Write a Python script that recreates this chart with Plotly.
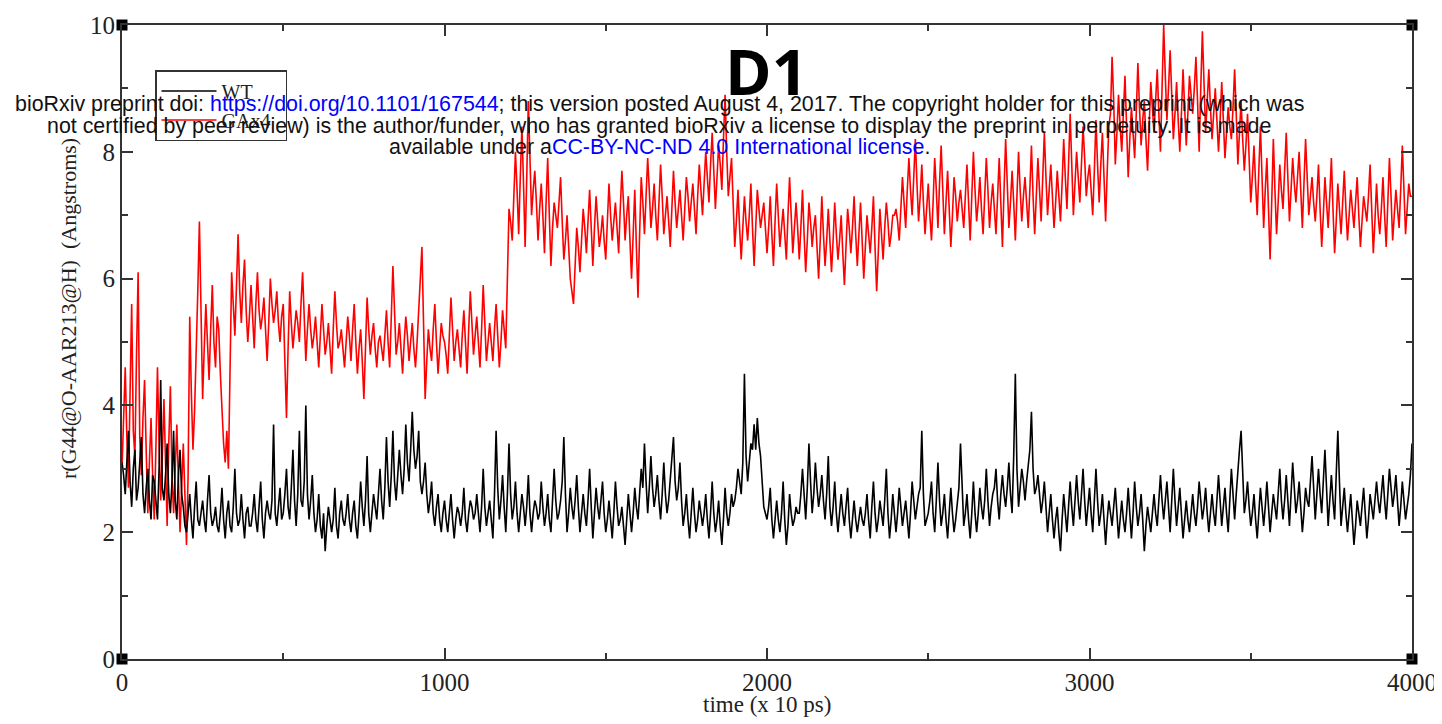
import plotly.graph_objects as go

# ---------------- data ----------------
# samples at t = 0, 10, 20, ... 4000 (x 10 ps)
wt_even = [
    3.1, 2.6, 3.6, 2.4, 3.3, 2.7, 3.5, 2.3, 3.0, 2.2,
    2.8, 2.2, 4.4, 2.5, 3.4, 2.3, 3.6, 2.2, 3.3, 2.4,
    2.0, 2.6, 1.9, 2.8, 2.1, 2.5, 2.0, 2.9, 2.1, 2.4,
    2.0, 2.7, 1.9, 2.5, 2.0, 3.0, 2.1, 2.6, 1.9, 2.4,
    2.1, 2.6, 2.0, 2.8, 1.9, 2.5, 2.2, 3.7, 2.1, 2.7,
    2.3, 3.0, 2.2, 3.3, 2.1, 3.6, 2.4, 4.0, 2.2, 2.9,
    2.0, 2.6, 1.9, 1.7, 2.4, 2.0, 2.7, 1.9, 2.5, 2.1,
    2.6, 2.0, 2.5, 1.9, 2.8, 2.1, 3.2, 2.0, 2.6, 2.2,
    3.0, 2.2, 3.5, 2.4, 3.6, 2.5, 3.3, 2.6, 3.7, 2.8,
    3.9, 3.0, 3.6, 2.6, 3.1, 2.3, 2.8, 2.1, 2.6, 2.0,
    2.5, 2.0, 2.6, 1.9, 2.4, 2.1, 2.7, 2.0, 2.5, 2.2,
    2.6, 2.0, 3.0, 2.1, 2.5, 1.9, 3.6, 2.2, 2.9, 2.0,
    3.4, 2.2, 2.8, 2.0, 2.6, 2.1, 2.9, 2.0, 2.5, 2.2,
    2.8, 2.1, 2.6, 2.0, 3.0, 2.2, 2.5, 3.5, 2.0, 2.7,
    2.2, 2.9, 2.0, 2.6, 2.1, 3.0, 1.9, 2.7, 2.2, 2.8,
    2.0, 2.5, 1.9, 2.8, 2.1, 2.4, 1.8, 2.6, 2.0, 2.7,
    2.2, 3.0, 3.4, 2.3, 3.2, 2.4, 2.9, 2.2, 3.1, 2.3,
    2.8, 3.5, 2.5, 3.1, 2.1, 2.6, 1.9, 2.7, 2.0, 2.5,
    2.1, 2.6, 1.9, 2.8, 2.0, 2.5, 1.8, 2.7, 2.1, 2.6,
    2.5, 3.0, 2.6, 4.5, 2.8, 3.4, 3.7, 3.8, 3.2, 2.4,
    2.2, 2.7, 1.9, 2.5, 2.0, 2.8, 1.8, 2.6, 2.1, 2.4,
    2.3, 3.0, 2.2, 3.4, 2.3, 3.1, 2.4, 2.9, 2.2, 3.2,
    2.1, 2.8, 2.0, 2.6, 2.1, 2.7, 1.9, 2.5, 2.0, 2.4,
    2.1, 2.6, 1.9, 2.8, 2.0, 2.5, 2.1, 3.0, 1.9, 2.6,
    2.0, 2.7, 2.1, 2.5, 1.9, 2.8, 2.2, 2.6, 3.6, 2.1,
    2.3, 2.8, 2.0, 3.1, 2.1, 2.6, 1.9, 2.7, 2.0, 2.5,
    3.4, 2.1, 2.6, 1.9, 2.8, 2.0, 2.7, 2.2, 3.0, 2.1,
    2.6, 3.0, 2.2, 2.9, 2.4, 3.1, 2.3, 4.5, 2.4, 3.0,
    2.5, 3.1, 3.9, 2.6, 2.9, 2.3, 2.8, 2.0, 2.6, 1.9,
    2.4, 1.7, 2.6, 2.0, 2.8, 2.1, 2.9, 2.2, 3.0, 2.1,
    2.7, 2.0, 3.0, 2.1, 2.6, 1.8, 2.5, 2.1, 2.7, 1.9,
    2.5, 2.0, 2.7, 1.9, 2.8, 2.1, 2.6, 1.7, 2.4, 2.0,
    2.6, 2.1, 2.9, 2.2, 2.8, 2.0, 3.0, 2.1, 2.7, 1.9,
    2.5, 2.0, 2.6, 2.1, 2.8, 2.2, 2.7, 2.0, 2.6, 2.1,
    2.9, 2.1, 2.7, 2.0, 3.0, 2.2, 3.0, 3.6, 2.3, 2.8,
    2.1, 2.6, 1.9, 2.7, 2.1, 2.8, 2.0, 2.6, 2.2, 3.0,
    2.2, 2.9, 2.1, 3.1, 2.3, 2.8, 2.0, 2.7, 2.4, 3.2,
    2.2, 3.0, 2.3, 3.3, 2.1, 2.9, 2.2, 3.6, 2.1, 2.7,
    2.0, 2.6, 1.8, 2.5, 2.1, 2.7, 1.9, 2.6, 2.2, 2.8,
    2.3, 2.9, 2.2, 3.0, 2.4, 2.9, 2.1, 2.8, 2.2, 2.6,
    3.4,
]
# samples at t = 5, 15, 25, ... 3995
wt_odd = [
    2.9, 3.2, 2.8, 3.0, 2.5, 3.1, 2.6, 2.7, 2.5, 2.9,
    2.5, 3.0, 2.7, 2.9, 2.6, 2.8, 2.5, 2.9, 2.6, 2.1,
    2.3, 2.2, 2.4, 2.2, 2.3, 2.2, 2.5, 2.3, 2.2, 2.1,
    2.3, 2.2, 2.3, 2.1, 2.4, 2.3, 2.2, 2.2, 2.3, 2.1,
    2.3, 2.2, 2.4, 2.2, 2.3, 2.3, 2.5, 2.3, 2.4, 2.2,
    2.6, 2.4, 2.7, 2.5, 2.6, 2.5, 2.8, 2.6, 2.5, 2.3,
    2.2, 2.1, 2.3, 2.1, 2.2, 2.2, 2.1, 2.3, 2.2, 2.3,
    2.2, 2.3, 2.1, 2.3, 2.4, 2.5, 2.3, 2.3, 2.4, 2.6,
    2.5, 2.7, 2.8, 2.9, 2.8, 2.9, 2.9, 3.0, 3.1, 3.3,
    3.3, 3.2, 2.8, 2.8, 2.6, 2.5, 2.3, 2.4, 2.2, 2.3,
    2.2, 2.3, 2.2, 2.2, 2.3, 2.3, 2.2, 2.3, 2.4, 2.3,
    2.3, 2.4, 2.4, 2.3, 2.2, 2.6, 2.7, 2.5, 2.4, 2.6,
    2.6, 2.4, 2.3, 2.3, 2.4, 2.4, 2.3, 2.3, 2.4, 2.3,
    2.4, 2.3, 2.2, 2.5, 2.5, 2.3, 2.8, 2.6, 2.3, 2.4,
    2.5, 2.4, 2.3, 2.3, 2.5, 2.4, 2.3, 2.4, 2.5, 2.3,
    2.2, 2.2, 2.3, 2.4, 2.2, 2.1, 2.2, 2.3, 2.3, 2.4,
    2.6, 2.7, 2.8, 2.7, 2.7, 2.6, 2.5, 2.6, 2.6, 2.5,
    3.1, 2.8, 2.7, 2.5, 2.3, 2.2, 2.3, 2.3, 2.2, 2.3,
    2.3, 2.2, 2.3, 2.3, 2.2, 2.1, 2.2, 2.3, 2.3, 2.4,
    2.7, 2.8, 3.1, 3.2, 3.1, 3.3, 3.3, 3.4, 2.8, 2.3,
    2.4, 2.2, 2.2, 2.2, 2.3, 2.2, 2.1, 2.3, 2.2, 2.3,
    2.6, 2.6, 2.7, 2.8, 2.6, 2.7, 2.6, 2.5, 2.6, 2.4,
    2.4, 2.3, 2.3, 2.3, 2.4, 2.2, 2.2, 2.2, 2.2, 2.2,
    2.3, 2.2, 2.4, 2.3, 2.2, 2.3, 2.5, 2.3, 2.2, 2.3,
    2.3, 2.4, 2.3, 2.2, 2.3, 2.5, 2.4, 2.7, 2.6, 2.2,
    2.5, 2.3, 2.5, 2.5, 2.3, 2.2, 2.3, 2.3, 2.2, 2.7,
    2.6, 2.3, 2.2, 2.3, 2.3, 2.3, 2.4, 2.5, 2.5, 2.4,
    2.7, 2.5, 2.6, 2.6, 2.7, 2.6, 3.2, 3.0, 2.7, 2.8,
    2.8, 3.3, 3.0, 2.7, 2.6, 2.5, 2.4, 2.3, 2.2, 2.2,
    2.0, 2.2, 2.3, 2.4, 2.4, 2.5, 2.5, 2.6, 2.5, 2.4,
    2.3, 2.5, 2.5, 2.3, 2.2, 2.2, 2.3, 2.4, 2.3, 2.2,
    2.2, 2.3, 2.3, 2.3, 2.4, 2.3, 2.2, 2.1, 2.2, 2.3,
    2.3, 2.5, 2.5, 2.5, 2.4, 2.5, 2.5, 2.4, 2.3, 2.2,
    2.2, 2.3, 2.3, 2.4, 2.5, 2.4, 2.3, 2.3, 2.3, 2.5,
    2.5, 2.4, 2.3, 2.5, 2.6, 2.6, 3.3, 2.9, 2.5, 2.4,
    2.3, 2.2, 2.3, 2.4, 2.4, 2.4, 2.3, 2.4, 2.6, 2.5,
    2.5, 2.5, 2.6, 2.7, 2.5, 2.4, 2.3, 2.5, 2.8, 2.7,
    2.6, 2.6, 2.8, 2.7, 2.5, 2.5, 2.9, 2.8, 2.4, 2.3,
    2.3, 2.2, 2.1, 2.3, 2.4, 2.3, 2.2, 2.4, 2.5, 2.5,
    2.6, 2.5, 2.6, 2.7, 2.6, 2.5, 2.4, 2.5, 2.4, 2.9,
]
gax4_even = [
    3.0, 4.6, 2.7, 5.6, 3.2, 6.1, 2.9, 4.4, 2.3, 3.8,
    2.2, 4.6, 2.5, 4.1, 2.1, 4.3, 2.3, 3.7, 2.0, 3.4,
    1.8, 5.4, 3.3, 4.7, 6.9, 4.1, 5.6, 4.4, 5.9, 4.6,
    5.2, 3.9, 3.1, 3.0, 6.1, 5.1, 6.7, 5.3, 6.3, 5.0,
    5.9, 4.9, 6.1, 5.2, 5.7, 4.7, 6.0, 5.3, 5.8, 5.0,
    5.6, 3.8, 5.8, 4.9, 5.5, 5.0, 6.1, 4.7, 5.6, 4.9,
    5.4, 4.6, 5.6, 4.8, 5.3, 4.5, 5.8, 4.9, 5.2, 4.6,
    5.4, 4.7, 5.6, 4.5, 5.2, 4.1, 5.7, 4.8, 5.3, 4.6,
    5.1, 4.7, 5.5, 4.6, 6.2, 4.8, 5.3, 4.5, 5.4, 4.7,
    5.3, 4.6, 5.5, 6.5, 4.1, 5.2, 4.7, 5.6, 4.5, 5.3,
    5.0, 4.5, 5.7, 4.7, 5.2, 4.6, 5.5, 4.5, 5.8, 4.8,
    5.4, 4.6, 5.9, 4.7, 5.3, 4.7, 5.6, 4.6, 5.5, 4.9,
    7.1, 6.6, 8.0, 6.7, 8.4, 6.5, 8.8, 7.0, 7.7, 6.6,
    7.5, 6.4, 7.9, 6.2, 7.2, 6.8, 7.6, 6.3, 7.0, 6.0,
    5.6, 6.8, 6.1, 7.1, 6.4, 7.4, 6.2, 7.3, 6.5, 7.0,
    6.3, 7.5, 6.6, 7.2, 6.4, 7.7, 6.6, 7.3, 6.0, 7.4,
    5.7, 7.6, 6.7, 7.9, 6.8, 7.5, 6.6, 7.8, 6.7, 7.3,
    6.5, 7.7, 6.8, 7.4, 6.6, 7.6, 6.9, 7.5, 6.7, 7.8,
    7.0, 8.0, 7.2, 8.3, 7.1, 8.1, 7.4, 8.9, 7.3, 7.9,
    6.5, 7.4, 6.3, 7.3, 6.6, 7.5, 6.2, 7.4, 6.8, 7.2,
    6.4, 7.3, 6.2, 7.5, 6.5, 7.1, 6.3, 7.6, 6.4, 7.2,
    6.3, 7.4, 6.1, 7.2, 6.5, 7.0, 6.0, 7.3, 6.2, 7.1,
    6.1, 7.2, 6.3, 7.0, 5.9, 7.1, 6.4, 7.3, 6.2, 7.2,
    6.0, 7.0, 6.4, 7.3, 5.8, 7.1, 6.3, 7.2, 6.5, 7.0,
    7.1, 6.6, 7.6, 6.8, 7.9, 7.0, 8.2, 6.9, 7.8, 6.7,
    7.5, 6.6, 7.9, 6.8, 8.1, 6.7, 7.7, 6.5, 7.6, 6.9,
    7.4, 6.8, 7.8, 6.6, 8.0, 6.9, 7.6, 6.7, 7.9, 6.8,
    7.5, 6.7, 7.9, 6.5, 8.2, 6.8, 7.7, 6.6, 8.0, 6.9,
    7.6, 6.8, 8.1, 6.7, 7.9, 6.9, 8.3, 7.0, 7.8, 6.8,
    7.7, 6.9, 8.2, 7.1, 8.6, 7.0, 8.0, 7.2, 8.4, 7.3,
    7.8, 7.0, 8.5, 7.2, 8.3, 6.9, 8.4, 9.5, 7.8, 8.9,
    8.0, 9.2, 7.6, 8.7, 7.9, 9.4, 8.1, 8.8, 7.7, 9.1,
    8.3, 9.3, 8.0, 10.0, 8.5, 9.6, 8.2, 9.1, 8.0, 9.3,
    8.1, 9.2, 8.6, 9.5, 8.0, 9.9, 8.3, 9.3, 8.2, 9.0,
    8.0, 9.1, 7.9, 8.7, 8.2, 9.3, 7.8, 8.8, 7.7, 8.6,
    7.2, 8.1, 7.0, 8.4, 6.8, 7.9, 6.3, 8.2, 6.7, 7.8,
    7.1, 8.3, 6.9, 7.9, 7.2, 8.0, 6.8, 8.2, 7.0, 7.6,
    6.9, 7.8, 6.5, 7.6, 6.8, 7.9, 6.4, 7.5, 6.7, 7.7,
    6.6, 7.4, 6.8, 7.6, 6.5, 7.3, 6.9, 7.8, 6.4, 7.5,
    6.7, 7.6, 6.5, 7.9, 6.6, 7.4, 6.8, 8.1, 6.7, 7.5,
    7.3,
]
gax4_odd = [
    3.8, 3.5, 4.2, 3.6, 4.8, 3.5, 3.8, 3.3, 3.1, 2.9,
    3.3, 3.4, 3.2, 3.1, 3.4, 2.9, 3.0, 2.8, 2.7, 2.6,
    2.9, 4.2, 3.9, 5.8, 5.2, 4.9, 5.0, 5.2, 5.0, 5.4,
    4.5, 3.4, 3.6, 4.6, 5.6, 5.9, 5.8, 5.9, 5.5, 5.4,
    5.4, 5.6, 5.5, 5.4, 5.2, 5.3, 5.6, 5.5, 5.3, 5.4,
    4.7, 4.9, 5.3, 5.2, 5.3, 5.6, 5.4, 5.2, 5.2, 5.1,
    5.0, 5.1, 5.2, 5.0, 4.9, 5.2, 5.3, 5.0, 4.9, 5.0,
    5.1, 5.2, 5.0, 4.9, 4.7, 4.9, 5.2, 5.1, 4.9, 5.0,
    4.9, 5.1, 5.0, 5.4, 5.5, 5.0, 4.9, 5.0, 5.1, 5.0,
    4.9, 5.0, 5.9, 5.3, 4.7, 4.9, 5.2, 5.0, 4.9, 5.1,
    4.8, 5.1, 5.2, 5.0, 4.9, 5.1, 5.0, 5.2, 5.3, 5.1,
    5.0, 5.2, 5.3, 5.0, 5.0, 5.2, 5.1, 5.0, 5.2, 6.0,
    6.9, 7.3, 7.4, 7.6, 7.5, 7.6, 7.9, 7.4, 7.2, 7.1,
    7.0, 7.2, 7.0, 6.8, 7.0, 7.2, 6.9, 6.6, 6.5, 5.8,
    6.2, 6.5, 6.6, 6.8, 6.9, 6.8, 6.8, 6.9, 6.7, 6.6,
    6.9, 7.0, 6.9, 6.8, 7.1, 7.2, 7.0, 6.6, 6.7, 6.5,
    6.7, 7.2, 7.3, 7.4, 7.1, 7.0, 7.2, 7.3, 7.0, 6.9,
    7.1, 7.2, 7.1, 7.0, 7.1, 7.3, 7.2, 7.1, 7.3, 7.4,
    7.5, 7.6, 7.8, 7.7, 7.6, 7.8, 8.2, 8.0, 7.6, 7.2,
    6.9, 6.8, 6.8, 6.9, 7.0, 6.8, 6.8, 7.1, 7.0, 6.8,
    6.8, 6.7, 6.9, 7.0, 6.8, 6.7, 7.0, 7.0, 6.8, 6.8,
    6.8, 6.7, 6.6, 6.9, 6.8, 6.5, 6.6, 6.7, 6.6, 6.6,
    6.6, 6.7, 6.6, 6.4, 6.5, 6.8, 6.8, 6.7, 6.7, 6.6,
    6.5, 6.7, 6.8, 6.5, 6.4, 6.7, 6.8, 6.9, 6.7, 7.0,
    6.9, 7.1, 7.2, 7.4, 7.4, 7.6, 7.5, 7.3, 7.2, 7.1,
    7.0, 7.2, 7.4, 7.5, 7.4, 7.2, 7.1, 7.0, 7.3, 7.2,
    7.1, 7.3, 7.2, 7.3, 7.4, 7.2, 7.1, 7.3, 7.4, 7.2,
    7.1, 7.3, 7.2, 7.4, 7.5, 7.2, 7.2, 7.3, 7.4, 7.3,
    7.2, 7.4, 7.3, 7.3, 7.4, 7.6, 7.6, 7.4, 7.3, 7.2,
    7.3, 7.5, 7.6, 7.8, 7.8, 7.5, 7.6, 7.8, 7.9, 7.6,
    7.4, 7.7, 7.8, 7.8, 7.6, 7.7, 8.6, 8.8, 8.3, 8.4,
    8.6, 8.4, 8.2, 8.3, 8.6, 8.7, 8.5, 8.2, 8.4, 8.7,
    8.8, 8.6, 9.0, 9.2, 9.0, 8.9, 8.6, 8.5, 8.6, 8.7,
    8.6, 8.9, 9.0, 8.8, 9.0, 9.1, 8.8, 8.7, 8.6, 8.5,
    8.5, 8.5, 8.3, 8.4, 8.7, 8.6, 8.3, 8.2, 8.1, 7.9,
    7.6, 7.5, 7.7, 7.6, 7.4, 7.1, 7.2, 7.4, 7.2, 7.4,
    7.7, 7.6, 7.4, 7.5, 7.6, 7.4, 7.5, 7.6, 7.3, 7.2,
    7.3, 7.1, 7.0, 7.2, 7.3, 7.1, 6.9, 7.1, 7.2, 7.1,
    7.0, 7.1, 7.2, 7.0, 6.9, 7.1, 7.3, 7.1, 6.9, 7.0,
    7.1, 7.0, 7.2, 7.3, 7.0, 7.1, 7.4, 7.4, 7.1, 7.3,
]
half_step = 5

# build the full series in time order (even samples, then the sample 5 later)
wt, gax4 = [], []
for k in range(len(wt_odd)):
    wt += [wt_even[k], wt_odd[k]]
    gax4 += [gax4_even[k], gax4_odd[k]]
wt.append(wt_even[-1])
gax4.append(gax4_even[-1])
time = [i * half_step for i in range(len(wt))]

x_ticks = [0, 1000, 2000, 3000, 4000]
y_ticks = [0, 2, 4, 6, 8, 10]
corner_x = [0, 0, 4000, 4000]
corner_y = [0, 10, 0, 10]

# ---------------- figure ----------------
SERIF = "Liberation Serif, Times New Roman, serif"
SANS = "Liberation Sans, Arial, sans-serif"
AX = "#333333"

# page body adds an 8px offset; plot area targets x 122..1412, y 25..659 on screen
PL, PT = 114, 17
W, H = 1434, 716
PW, PH = 1290, 634


def px(xs):
    return (xs - 8 - PL) / PW


def py(ys):
    return (PT + PH - (ys - 8)) / PH


fig = go.Figure()
fig.add_trace(go.Scatter(x=time, y=gax4, mode="lines", name="GAx4\u00a0\u00a0",
                         line=dict(color="#ff0000", width=1.6), legendrank=2))
fig.add_trace(go.Scatter(x=time, y=wt, mode="lines", name="WT",
                         line=dict(color="#000000", width=1.6), legendrank=1))
fig.add_trace(go.Scatter(x=corner_x, y=corner_y, mode="markers", showlegend=False,
                         marker=dict(symbol="square", size=11, color="#000000"),
                         cliponaxis=False, hoverinfo="skip"))

axis_common = dict(
    showline=True, linecolor=AX, linewidth=2, mirror="allticks",
    ticks="inside", ticklen=11, tickwidth=1.5, tickcolor=AX,
    showgrid=False, zeroline=False, automargin=False,
    tickfont=dict(family=SERIF, size=25, color="#222222"),
)
fig.update_xaxes(range=[0, 4000], tickvals=x_ticks,
                 minor=dict(dtick=500, ticks="inside", ticklen=6, tickwidth=1.5, tickcolor=AX),
                 **axis_common)
fig.update_yaxes(range=[0, 10], tickvals=y_ticks,
                 minor=dict(dtick=1, ticks="inside", ticklen=6, tickwidth=1.5, tickcolor=AX),
                 **axis_common)

ann = []
# panel label
ann.append(dict(text="<b>D1</b>", x=px(766), y=py(71), xref="paper", yref="paper",
                xanchor="center", yanchor="middle", showarrow=False,
                font=dict(family="Open Sans, sans-serif", size=63, color="#000000")))
# axis titles
ann.append(dict(text="time (x 10 ps)", x=px(767), y=py(704), xref="paper", yref="paper",
                xanchor="center", yanchor="middle", showarrow=False,
                font=dict(family=SERIF, size=23, color="#222222")))
ann.append(dict(text="r(G44@O-AAR213@H)  (Angstroms)", x=px(68), y=py(309),
                xref="paper", yref="paper", xanchor="center", yanchor="middle", textangle=-90,
                showarrow=False, font=dict(family=SERIF, size=22, color="#222222")))
# bioRxiv watermark
wm_lines = [
    "bioRxiv preprint doi: <span style='color:#0000ff'>https://doi.org/10.1101/167544</span>; this version posted August 4, 2017. The copyright holder for this preprint (which was",
    "not certified by peer review) is the author/funder, who has granted bioRxiv a license to display the preprint in perpetuity. It is made",
    "available under a<span style='color:#0000ff'>CC-BY-NC-ND 4.0 International license</span>.",
]
wm_y = [104, 125.5, 147]
for line, ly in zip(wm_lines, wm_y):
    ann.append(dict(text=line, x=px(659), y=py(ly), xref="paper", yref="paper",
                    xanchor="center", yanchor="middle", showarrow=False,
                    font=dict(family=SANS, size=21.4, color="#111111")))

fig.update_layout(
    width=W, height=H,
    margin=dict(l=PL, r=W - PL - PW, t=PT, b=H - PT - PH),
    paper_bgcolor="white", plot_bgcolor="white",
    showlegend=True,
    legend=dict(x=px(155), y=py(70), xanchor="left", yanchor="top",
                bgcolor="white", bordercolor="#333333", borderwidth=1.5,
                font=dict(family=SERIF, size=20, color="#222222"),
                tracegroupgap=0, itemwidth=55),
    annotations=ann,
)

fig.write_html("out.html")
